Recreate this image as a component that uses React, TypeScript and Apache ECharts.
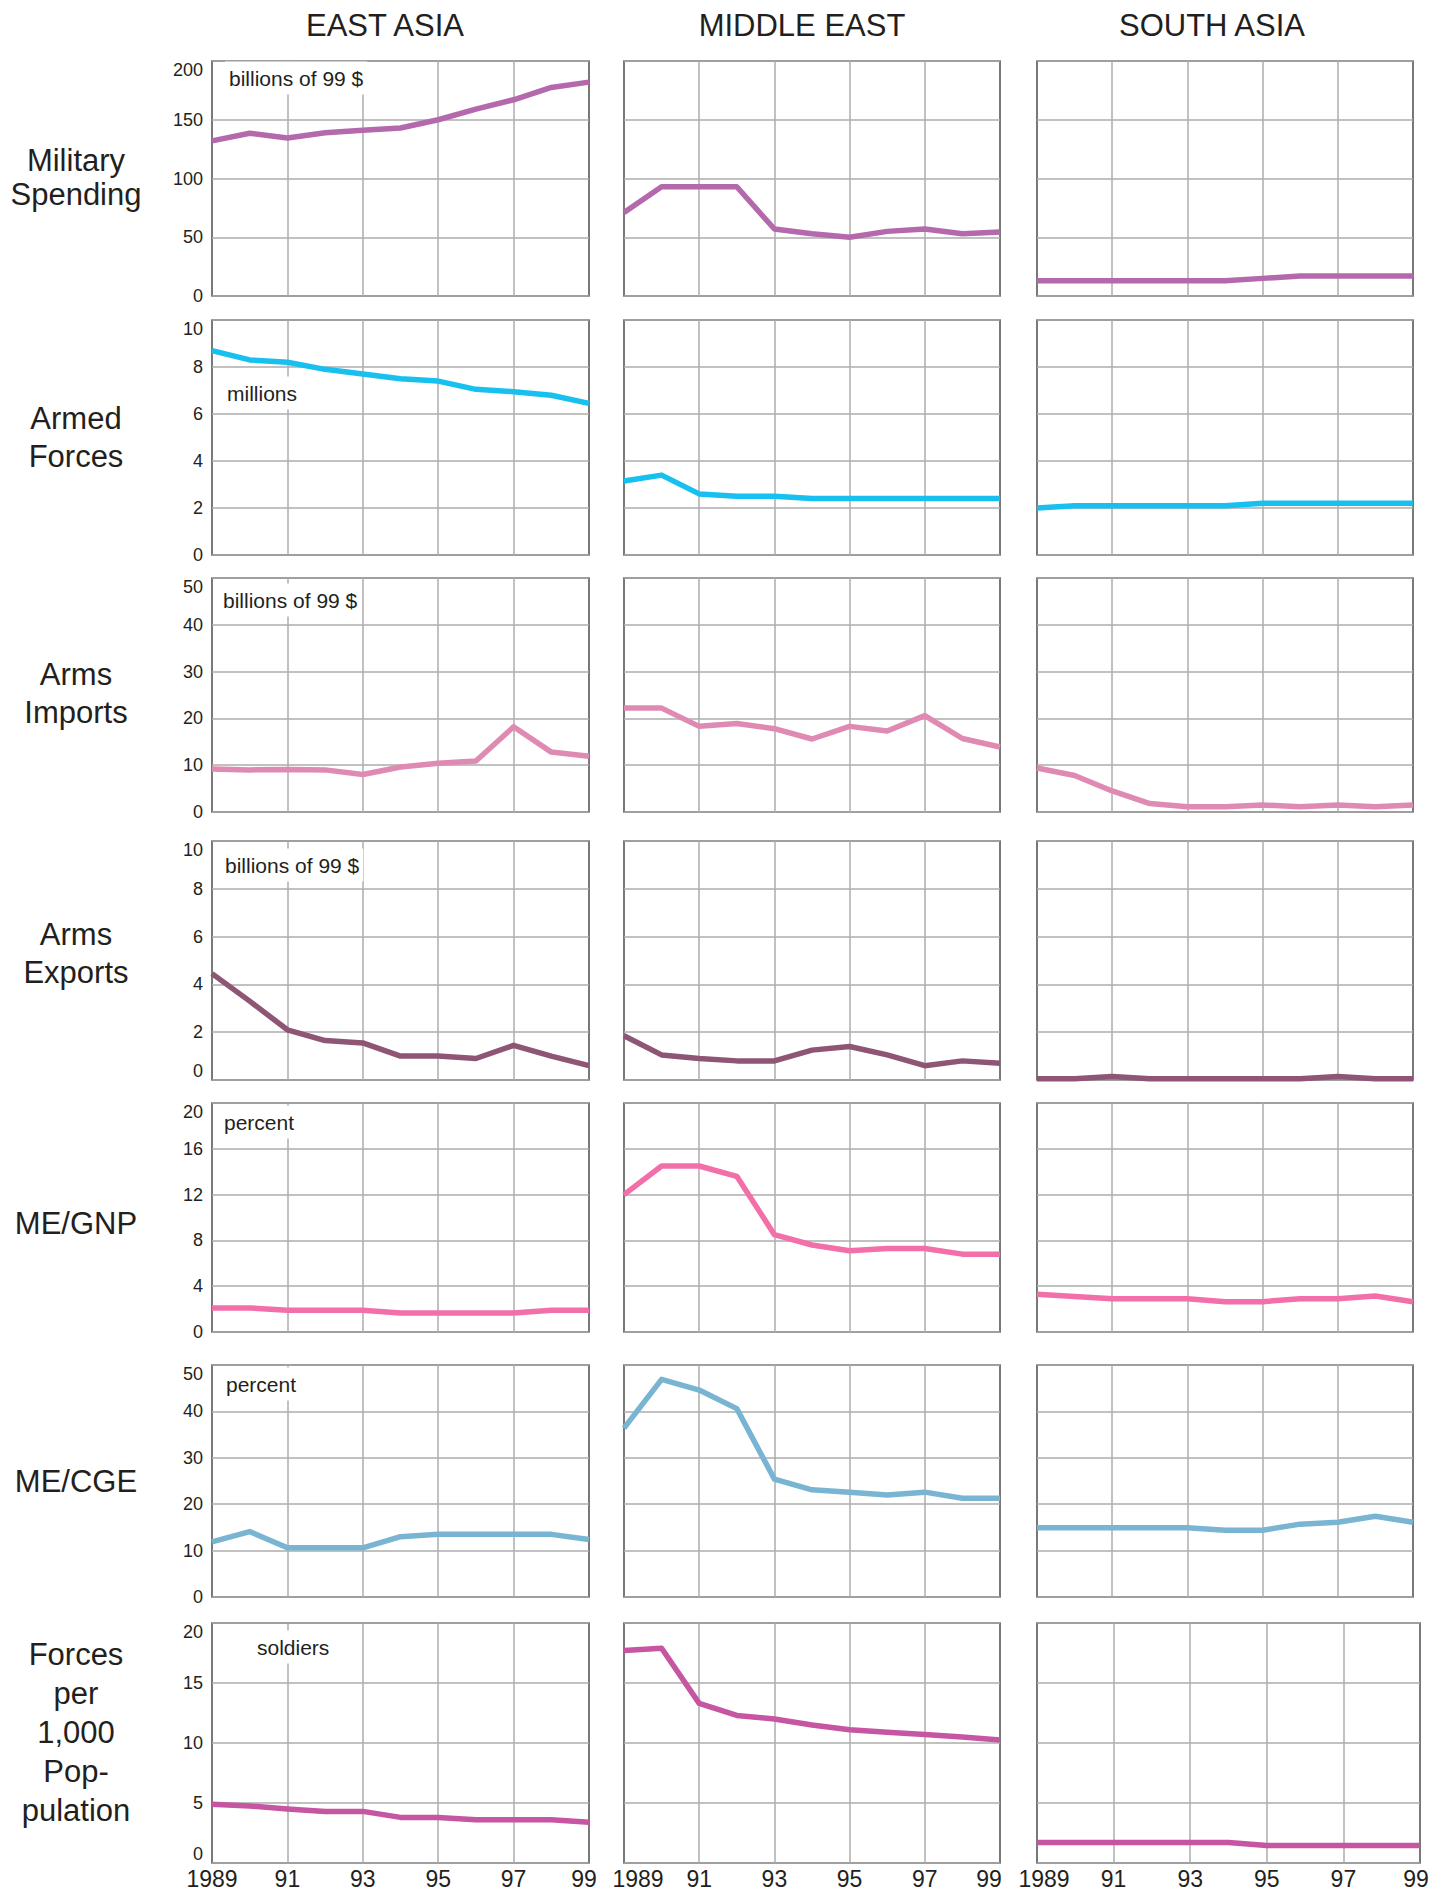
import React, { useEffect, useRef } from "react";
import * as echarts from "echarts";

// ---------- data ----------
const YEARS = ["1989", "1990", "1991", "1992", "1993", "1994", "1995", "1996", "1997", "1998", "1999"];
const REGIONS = ["EAST ASIA", "MIDDLE EAST", "SOUTH ASIA"];
const ROW_LABELS = [
  "Military\nSpending",
  "Armed\nForces",
  "Arms\nImports",
  "Arms\nExports",
  "ME/GNP",
  "ME/CGE",
  "Forces\nper\n1,000\nPop-\npulation",
];
const UNIT_LABELS = ["billions of 99 $", "millions", "billions of 99 $", "billions of 99 $", "percent", "percent", "soldiers"];
const Y_MAX = [200, 10, 50, 10, 20, 50, 20];
const Y_STEP = [50, 2, 10, 2, 4, 10, 5];

const MIL_SPEND_EA = [132, 138.5, 134.5, 139, 141, 143, 150, 159, 167, 177.5, 182];
const MIL_SPEND_ME = [71, 93, 93, 93, 57, 53, 50, 55, 57, 53, 54.5];
const MIL_SPEND_SA = [13, 13, 13, 13, 13, 13, 15, 17, 17, 17, 17];

const ARMED_EA = [8.7, 8.3, 8.2, 7.9, 7.7, 7.5, 7.4, 7.05, 6.95, 6.8, 6.45];
const ARMED_ME = [3.15, 3.4, 2.6, 2.5, 2.5, 2.4, 2.4, 2.4, 2.4, 2.4, 2.4];
const ARMED_SA = [2.0, 2.1, 2.1, 2.1, 2.1, 2.1, 2.2, 2.2, 2.2, 2.2, 2.2];

const IMPORTS_EA = [9.2, 9.0, 9.1, 9.0, 8.0, 9.6, 10.4, 10.9, 18.2, 12.8, 11.9];
const IMPORTS_ME = [22.2, 22.2, 18.3, 18.9, 17.8, 15.6, 18.3, 17.3, 20.6, 15.7, 13.9];
const IMPORTS_SA = [9.4, 7.8, 4.5, 1.8, 1.1, 1.1, 1.5, 1.1, 1.5, 1.1, 1.5];

const EXPORTS_EA = [4.45, 3.3, 2.1, 1.65, 1.55, 1.0, 1.0, 0.9, 1.45, 1.0, 0.6];
const EXPORTS_ME = [1.85, 1.05, 0.9, 0.8, 0.8, 1.25, 1.4, 1.05, 0.6, 0.8, 0.7];
const EXPORTS_SA = [0.05, 0.05, 0.15, 0.05, 0.05, 0.05, 0.05, 0.05, 0.15, 0.05, 0.05];

const GNP_EA = [2.1, 2.1, 1.9, 1.9, 1.9, 1.65, 1.65, 1.65, 1.65, 1.9, 1.9];
const GNP_ME = [12, 14.5, 14.5, 13.6, 8.5, 7.6, 7.1, 7.3, 7.3, 6.8, 6.8];
const GNP_SA = [3.3, 3.1, 2.9, 2.9, 2.9, 2.65, 2.65, 2.9, 2.9, 3.15, 2.65];

const CGE_EA = [11.9, 14.1, 10.6, 10.6, 10.6, 13.0, 13.5, 13.5, 13.5, 13.5, 12.4];
const CGE_ME = [36.4, 46.9, 44.6, 40.6, 25.4, 23.1, 22.6, 22.0, 22.6, 21.3, 21.3];
const CGE_SA = [14.9, 14.9, 14.9, 14.9, 14.9, 14.4, 14.4, 15.7, 16.1, 17.4, 16.1];

const PER1000_EA = [4.9, 4.75, 4.5, 4.3, 4.3, 3.8, 3.8, 3.6, 3.6, 3.6, 3.4];
const PER1000_ME = [17.7, 17.9, 13.3, 12.3, 12.0, 11.5, 11.1, 10.9, 10.7, 10.5, 10.25];
const PER1000_SA = [1.7, 1.7, 1.7, 1.7, 1.7, 1.7, 1.45, 1.45, 1.45, 1.45, 1.45];

const SERIES_DATA = [
  [MIL_SPEND_EA, MIL_SPEND_ME, MIL_SPEND_SA],
  [ARMED_EA, ARMED_ME, ARMED_SA],
  [IMPORTS_EA, IMPORTS_ME, IMPORTS_SA],
  [EXPORTS_EA, EXPORTS_ME, EXPORTS_SA],
  [GNP_EA, GNP_ME, GNP_SA],
  [CGE_EA, CGE_ME, CGE_SA],
  [PER1000_EA, PER1000_ME, PER1000_SA],
];

// ---------- styles / layout ----------
const ROW_COLORS = ["#b469ad", "#17c0ef", "#df8ab2", "#8e5674", "#f26fa9", "#79b5d2", "#c655a2"];
const FONT = '"Liberation Sans", Arial, Helvetica, sans-serif';
const TEXT = "#231f20";
const ROW_TOP = [61, 320, 578, 841, 1103, 1365, 1623];
const ROW_H = [235, 235, 234, 239, 229, 232, 240];
const COL_LEFT = [212, 624, 1037];
const COL_W = [377, 376, 376];
const TITLE_X = [385, 802, 1212];
const ROW_LABEL_Y = [177, 437, 693, 953, 1223, 1481, 1732];
const ROW_LABEL_LH = [34, 38, 38, 38, 38, 38, 39];
const UNIT_POS = [
  [229, 78],
  [227, 393],
  [223, 600],
  [225, 865],
  [224, 1122],
  [226, 1384],
  [257, 1647],
];
const FIRST_SHIFT = [0, 14, 7];
const LAST_SHIFT = [-5, -11, -4];

function buildOption() {
  const grid: any[] = [];
  const xAxis: any[] = [];
  const yAxis: any[] = [];
  const series: any[] = [];
  const graphic: any[] = [];

  for (let r = 0; r < 7; r++) {
    for (let c = 0; c < 3; c++) {
      const k = r * 3 + c;
      const width = r === 6 && c === 2 ? 383 : COL_W[c];
      grid.push({
        left: COL_LEFT[c],
        top: ROW_TOP[r],
        width,
        height: ROW_H[r],
        show: true,
        borderColor: "#4d4d4d",
        borderWidth: 1.5,
        backgroundColor: "transparent",
        containLabel: false,
      });
      const fs = FIRST_SHIFT[c];
      const ls = LAST_SHIFT[c];
      xAxis.push({
        gridIndex: k,
        type: "category",
        data: YEARS,
        boundaryGap: false,
        axisLine: { show: false },
        axisTick: { show: false },
        axisLabel:
          r === 6
            ? {
                show: true,
                interval: (i: number) => i % 2 === 0,
                fontSize: 23,
                fontFamily: FONT,
                color: TEXT,
                margin: 4,
                formatter: (v: string, i: number) => {
                  const t = i === 0 ? "1989" : v.slice(2);
                  if (i === 0 && fs) return `{f|${t}}`;
                  if (i === 10 && ls) return `{l|${t}}`;
                  return t;
                },
                rich: {
                  f: { fontSize: 23, fontFamily: FONT, color: TEXT, padding: [0, 0, 0, 2 * fs] },
                  l: { fontSize: 23, fontFamily: FONT, color: TEXT, padding: [0, -2 * ls, 0, 0] },
                },
              }
            : { show: false },
        splitLine: {
          show: true,
          interval: (i: number) => i > 0 && i < 10 && i % 2 === 0,
          lineStyle: { color: "#adadad", width: 1.5 },
        },
      });
      yAxis.push({
        gridIndex: k,
        type: "value",
        min: 0,
        max: Y_MAX[r],
        interval: Y_STEP[r],
        axisLine: { show: false },
        axisTick: { show: false },
        splitLine: { show: true, lineStyle: { color: "#adadad", width: 1.5 } },
        axisLabel:
          c === 0
            ? {
                show: true,
                fontSize: 18,
                fontFamily: FONT,
                color: TEXT,
                margin: 9,
                verticalAlignMaxLabel: "top",
                verticalAlignMinLabel: r === 3 || r === 6 ? "bottom" : "middle",
              }
            : { show: false },
      });
      series.push({
        type: "line",
        xAxisIndex: k,
        yAxisIndex: k,
        data: SERIES_DATA[r][c],
        showSymbol: false,
        symbol: "none",
        clip: false,
        silent: true,
        z: 3,
        lineStyle: { color: ROW_COLORS[r], width: 5.5, join: "round", cap: "butt" },
        itemStyle: { color: ROW_COLORS[r] },
      });
    }

    graphic.push({
      type: "text",
      z: 10,
      style: {
        text: ROW_LABELS[r],
        x: 76,
        y: ROW_LABEL_Y[r],
        align: "center",
        verticalAlign: "middle",
        font: `31px ${FONT}`,
        lineHeight: ROW_LABEL_LH[r],
        fill: TEXT,
      },
    });
    graphic.push({
      type: "text",
      z: 1,
      style: {
        text: UNIT_LABELS[r],
        x: UNIT_POS[r][0] - 4,
        y: UNIT_POS[r][1],
        align: "left",
        verticalAlign: "middle",
        font: `21px ${FONT}`,
        fill: TEXT,
        backgroundColor: "#ffffff",
        padding: [6, 4],
      },
    });
  }

  for (let c = 0; c < 3; c++) {
    graphic.push({
      type: "text",
      z: 10,
      style: {
        text: REGIONS[c],
        x: TITLE_X[c],
        y: 25,
        align: "center",
        verticalAlign: "middle",
        font: `31px ${FONT}`,
        fill: TEXT,
      },
    });
  }

  return {
    animation: false,
    backgroundColor: "#ffffff",
    grid,
    xAxis,
    yAxis,
    series,
    graphic,
  };
}

export default function App() {
  const ref = useRef<HTMLDivElement>(null);
  useEffect(() => {
    if (!ref.current) return;
    const chart = echarts.init(ref.current, null, { renderer: "svg" });
    chart.setOption(buildOption() as any);
    return () => chart.dispose();
  }, []);
  return (
    <div
      ref={ref}
      style={{ position: "absolute", left: 0, top: 0, width: 1454, height: 1891, background: "#fff" }}
    />
  );
}
